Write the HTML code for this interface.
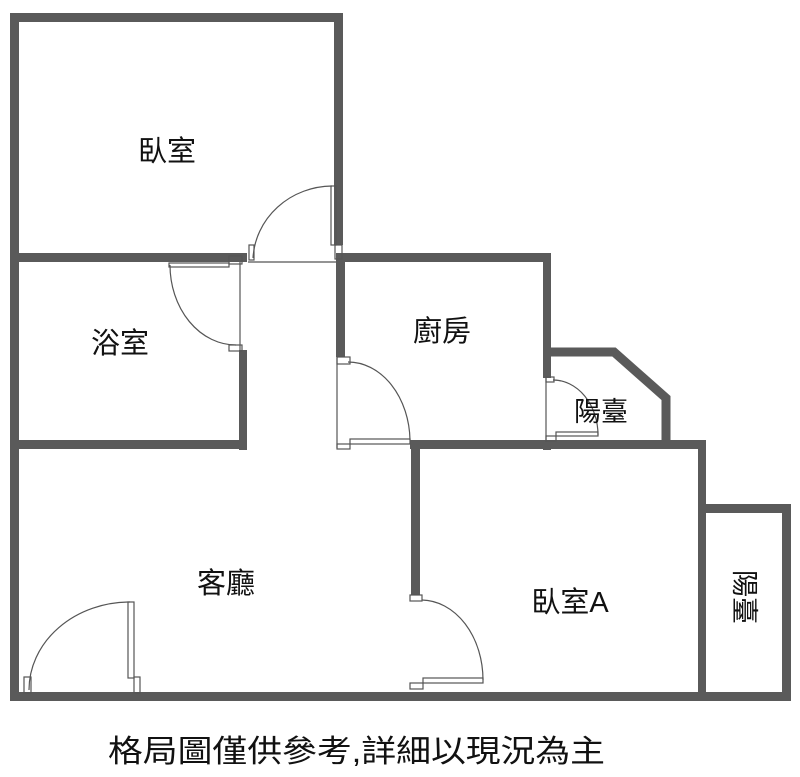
<!DOCTYPE html>
<html><head><meta charset="utf-8"><style>
html,body{margin:0;padding:0;background:#fff;}
svg{display:block}
text{font-family:"Liberation Sans","Noto Sans CJK TC",sans-serif;fill:#111}
</style></head><body>
<svg width="800" height="777" viewBox="0 0 800 777" xmlns="http://www.w3.org/2000/svg">
<g fill="#5a5a5a">
<rect x="10" y="13" width="9" height="688"/>
<rect x="10" y="13" width="333" height="9"/>
<rect x="334" y="13" width="9" height="232"/>
<rect x="10" y="253" width="237" height="9"/>
<rect x="239" y="253" width="8" height="9"/>
<rect x="239" y="350" width="8" height="100"/>
<rect x="10" y="440" width="237" height="9"/>
<rect x="336" y="253" width="9" height="104"/>
<rect x="343" y="253" width="208" height="9"/>
<rect x="543" y="253" width="8" height="125"/>
<rect x="543" y="440" width="8" height="10"/>
<rect x="410" y="440" width="296" height="9"/>
<rect x="411" y="449" width="9" height="146"/>
<rect x="698" y="440" width="8" height="261"/>
<rect x="706" y="504" width="85" height="9"/>
<rect x="782" y="504" width="9" height="197"/>
<rect x="10" y="692" width="781" height="9"/>
</g>
<polyline points="547,352 614,352 666,398 666,445" fill="none" stroke="#5a5a5a" stroke-width="9"/>
<g fill="none" stroke="#555" stroke-width="1.2">
<line x1="248" y1="262" x2="336" y2="262"/>
<path d="M332,186 A80,76 0 0 0 253,258"/>
<rect x="331" y="186" width="5" height="59"/>
<rect x="249" y="245" width="5" height="15"/>
<rect x="335" y="245" width="7" height="14"/>
<path d="M170,265 A66,80 0 0 0 236,345"/>
<rect x="169" y="263" width="60" height="4"/>
<rect x="229" y="256" width="13" height="8"/>
<rect x="229" y="345" width="13" height="6"/>
<line x1="240" y1="262" x2="240" y2="350"/>
<line x1="337" y1="357" x2="337" y2="448"/>
<path d="M348,362 A62,80 0 0 1 410,440"/>
<rect x="337" y="357" width="13" height="7"/>
<rect x="350" y="439" width="60" height="5"/>
<rect x="337" y="444" width="13" height="5"/>
<line x1="546" y1="378" x2="546" y2="442"/>
<path d="M553,380 A45,55 0 0 1 598,435"/>
<rect x="546" y="377" width="8" height="5"/>
<rect x="556" y="432" width="42" height="4"/>
<rect x="546" y="436" width="10" height="5"/>
<path d="M29,690 A101,88 0 0 1 130,602"/>
<rect x="128" y="602" width="6" height="76"/>
<rect x="24" y="677" width="7" height="16"/>
<rect x="134" y="677" width="6" height="16"/>
<path d="M422,600 A62,80 0 0 1 483,680"/>
<rect x="410" y="595" width="12" height="6"/>
<rect x="423" y="678" width="60" height="5"/>
<rect x="410" y="683" width="13" height="6"/>
</g>
<g font-size="29">
<text x="167" y="161" text-anchor="middle">臥室</text>
<text x="120" y="353" text-anchor="middle">浴室</text>
<text x="442" y="341" text-anchor="middle">廚房</text>
<text x="226" y="593" text-anchor="middle">客廳</text>
<text x="570" y="612" text-anchor="middle">臥室A</text>
</g>
<text x="601" y="421" text-anchor="middle" font-size="27">陽臺</text>
<text transform="translate(735,597) rotate(90)" text-anchor="middle" font-size="27">陽臺</text>
<text x="108" y="762" font-size="31" textLength="497" lengthAdjust="spacingAndGlyphs">格局圖僅供參考,詳細以現況為主</text>
</svg>
</body></html>
